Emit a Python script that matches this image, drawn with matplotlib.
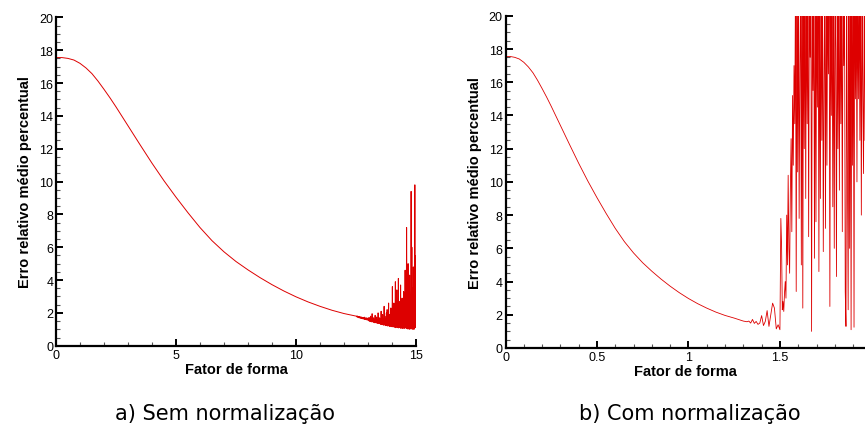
import numpy as np
import matplotlib
matplotlib.use("Agg")
import matplotlib.pyplot as plt
from matplotlib.ticker import MultipleLocator

# smooth part of the curve, panel a (Fator de forma 0..12.5)
smooth_x_a = [0, 0.25, 0.5, 0.75, 1.0, 1.25, 1.5, 1.75, 2.0, 2.25, 2.5, 2.75, 3.0,
              3.5, 4.0, 4.5, 5.0, 5.5, 6.0, 6.5, 7.0, 7.5, 8.0, 8.5, 9.0, 9.5,
              10.0, 10.5, 11.0, 11.5, 12.0, 12.5]
smooth_y = [17.55, 17.55, 17.5, 17.4, 17.2, 16.92, 16.57, 16.12, 15.62, 15.1, 14.55,
            13.98, 13.4, 12.25, 11.12, 10.05, 9.05, 8.1, 7.2, 6.4, 5.72, 5.13, 4.62,
            4.15, 3.72, 3.33, 2.98, 2.67, 2.4, 2.16, 1.96, 1.8]

# noisy tail, panel a (12.5..15)
noise_y_a = [1.8, 1.76, 1.82, 1.74, 1.79, 1.72, 1.78, 1.7, 1.77, 1.69, 1.75, 1.68, 1.76, 1.66, 1.74, 1.67,
             1.73, 1.64, 1.72, 1.63, 1.7, 1.62, 1.74, 1.6, 1.69, 1.61, 1.68, 1.58, 1.7, 1.57, 1.66, 1.56,
             1.68, 1.52, 1.72, 1.5, 1.65, 1.47, 1.8, 1.49, 1.62, 1.45, 1.95, 1.46, 1.66, 1.44, 1.7, 1.42,
             1.6, 1.4, 1.85, 1.43, 1.62, 1.38, 1.75, 1.4, 1.58, 1.36, 2.0, 1.38, 1.65, 1.35, 1.7, 1.34,
             1.62, 1.3, 2.1, 1.32, 1.7, 1.28, 1.9, 1.3, 1.6, 1.25, 2.4, 1.28, 1.8, 1.24, 1.65, 1.22,
             2.0, 1.26, 2.2, 1.2, 1.7, 1.22, 2.6, 1.2, 1.9, 1.18, 1.75, 1.2, 2.3, 1.16, 1.8, 1.2,
             3.6, 1.15, 2.2, 1.2, 2.6, 1.12, 1.9, 1.18, 3.9, 1.1, 2.3, 1.15, 3.4, 1.1, 2.0, 1.14,
             4.1, 1.08, 2.7, 1.12, 2.1, 1.1, 3.7, 1.05, 2.4, 1.12, 2.9, 1.06, 2.2, 1.1, 3.3, 1.05,
             3.2, 1.08, 4.6, 1.12, 2.5, 1.05, 7.2, 1.1, 3.0, 1.02, 5.0, 1.1, 2.6, 1.0, 4.3, 1.08,
             3.1, 1.02, 9.4, 1.1, 6.0, 1.0, 3.5, 1.05, 4.8, 1.0, 2.8, 1.02, 9.8, 1.1, 5.5, 3.0]

# panel b: same smooth curve, Fator de forma 0..1.25
smooth_x_b = [0, 0.025, 0.05, 0.075, 0.1, 0.125, 0.15, 0.175, 0.2, 0.225, 0.25,
              0.275, 0.3, 0.35, 0.4, 0.45, 0.5, 0.55, 0.6, 0.65, 0.7, 0.75, 0.8,
              0.85, 0.9, 0.95, 1.0, 1.05, 1.1, 1.15, 1.2, 1.25]

# small wiggles 1.30..1.50
wiggle_x_b = [1.30, 1.31, 1.32, 1.33, 1.34, 1.35, 1.36, 1.37, 1.38, 1.39, 1.40,
              1.41, 1.42, 1.43, 1.44, 1.45, 1.46, 1.47, 1.48, 1.49, 1.50]
wiggle_y_b = [1.62, 1.6, 1.58, 1.62, 1.5, 1.72, 1.48, 1.6, 1.42, 1.5, 1.95,
              1.35, 1.6, 2.25, 1.3, 2.0, 2.7, 2.4, 1.15, 1.4, 1.1]

# wild part 1.505..1.965 (values above 20 are cut by the axis)
wild_y_b = [7.8, 6.2, 2.3, 2.8, 2.2, 3.3, 4.0, 3.0, 8.0, 5.0, 10.4, 6.0,
            4.5, 9.5, 12.6, 7.0, 15.2, 11.0, 17.0, 13.5, 22, 3.4, 22, 10.6,
            22, 7.8, 17.0, 22, 5.0, 22, 2.4, 22, 12.0, 22,
            9.0, 22, 13.5, 22, 6.7, 22, 17.5, 22, 1.0, 22,
            15.5, 22, 5.4, 22, 7.6, 22, 14.5, 22, 4.6, 22,
            9.0, 22, 12.5, 22, 5.8, 16.0, 22, 7.2, 22, 11.0,
            22, 16.5, 22, 2.5, 22, 14.0, 22, 8.5, 22, 6.0,
            22, 18.0, 4.3, 22, 12.0, 22, 9.5, 22, 13.5, 22,
            7.0, 22, 17.0, 22, 3.4, 1.3, 22, 10.5, 2.3, 22,
            6.0, 22, 1.1, 22, 11.0, 22, 1.25, 22, 15.0, 22,
            10.0, 22, 15.0, 22, 12.5, 22, 8.0, 22, 15.2, 10.5,
            22, 12.5]

line_color = "#dd0000"
tick_font = "Liberation Sans"

fig = plt.figure(figsize=(8.65, 4.27), dpi=100)
ax1 = fig.add_axes([0.0647, 0.188, 0.4162, 0.769])
ax2 = fig.add_axes([0.5844, 0.1827, 0.4156, 0.778])

xa = smooth_x_a + list(np.linspace(12.516, 15, len(noise_y_a)))
ya = smooth_y + noise_y_a
ax1.plot(xa, ya, color=line_color, lw=0.7)

xb = smooth_x_b + wiggle_x_b + list(np.linspace(1.505, 1.965, len(wild_y_b)))
yb = smooth_y + wiggle_y_b + wild_y_b
ax2.plot(xb, yb, color=line_color, lw=0.6)

ax1.set_xlim(0, 15)
ax2.set_xlim(0, 1.965)
ax1.xaxis.set_major_locator(MultipleLocator(5))
ax1.xaxis.set_minor_locator(MultipleLocator(1))
ax2.xaxis.set_minor_locator(MultipleLocator(0.1))
ax2.set_xticks([0, 0.5, 1, 1.5])
ax2.set_xticklabels(["0", "0.5", "1", "1.5"])

for ax in (ax1, ax2):
    ax.set_ylim(0, 20)
    ax.yaxis.set_major_locator(MultipleLocator(2))
    ax.yaxis.set_minor_locator(MultipleLocator(0.5))
    ax.spines["top"].set_visible(False)
    ax.spines["right"].set_visible(False)
    ax.spines["left"].set_linewidth(1.6)
    ax.spines["bottom"].set_linewidth(1.6)
    ax.tick_params(which="major", direction="in", length=5, width=1.4, pad=2,
                   labelsize=9)
    ax.tick_params(which="minor", direction="in", length=3, width=0.8,
                   color="#555555")
    for lab in ax.get_xticklabels() + ax.get_yticklabels():
        lab.set_fontfamily(tick_font)
    ax.set_xlabel("Fator de forma", fontfamily=tick_font, fontweight="bold",
                  fontsize=10.5, labelpad=1)
    ax.set_ylabel("Erro relativo médio percentual", fontfamily=tick_font,
                  fontweight="bold", fontsize=10.5, labelpad=5)

fig.text(0.26, 0.008, "a) Sem normalização", ha="center", va="bottom",
         fontsize=15, family="DejaVu Sans")
fig.text(0.798, 0.008, "b) Com normalização", ha="center", va="bottom",
         fontsize=15, family="DejaVu Sans")

fig.savefig("out.png", dpi=100)
